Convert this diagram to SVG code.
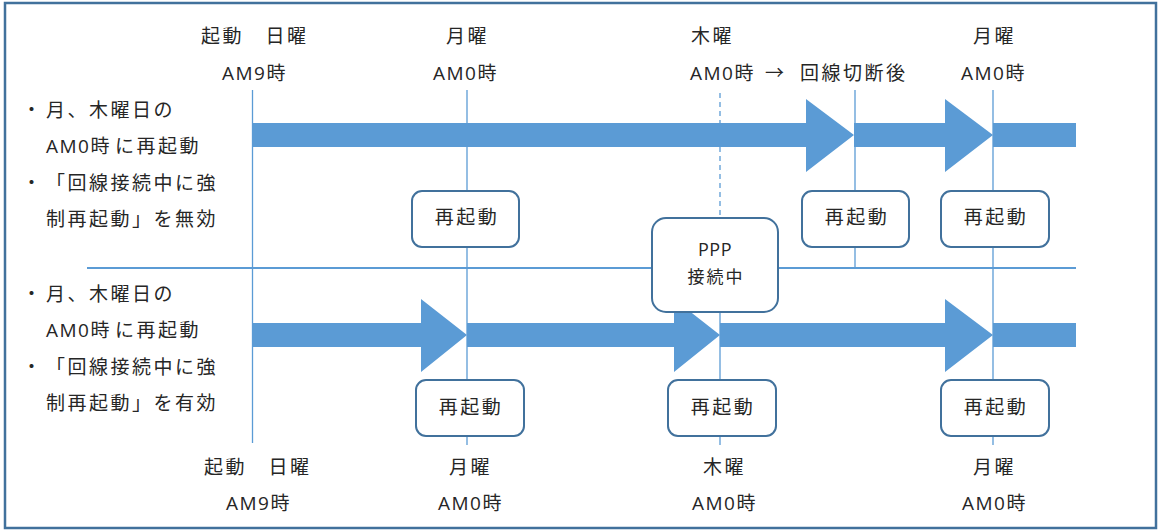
<svg xmlns="http://www.w3.org/2000/svg" width="1161" height="532" viewBox="0 0 1161 532">
<style>
.t{font-family:"Noto Sans CJK JP","Noto Sans",sans-serif;font-size:19px;fill:#262626;letter-spacing:2.5px}
.s{font-family:"Noto Sans CJK JP","Noto Sans",sans-serif;font-size:17px;fill:#262626;letter-spacing:2px}
.l{font-family:"Open Sans","Noto Sans CJK JP",sans-serif;letter-spacing:1.5px}
.p{font-family:"Open Sans",sans-serif;font-size:18px;letter-spacing:0.5px}
.c{text-anchor:middle}
.vl{stroke:#5b9bd5;stroke-width:1.3;fill:none}
.box{fill:#fff;stroke:#41719c;stroke-width:2}
.arr{fill:#5b9bd5}
</style>
<rect x="5" y="3" width="1151" height="525" fill="#fff" stroke="#41719c" stroke-width="2.5"/>
<g id="connectors">
<line class="vl" x1="252.5" y1="90" x2="252.5" y2="443"/>
<line class="vl" x1="467" y1="90" x2="467" y2="445"/>
<line class="vl" x1="720" y1="93" x2="720" y2="218" stroke-dasharray="5,4"/>
<line class="vl" x1="720" y1="312" x2="720" y2="445"/>
<line class="vl" x1="855" y1="90" x2="855" y2="268"/>
<line class="vl" x1="993" y1="90" x2="993" y2="445"/>
<line x1="87" y1="268" x2="1076" y2="268" stroke="#5b9bd5" stroke-width="2"/>
<path class="arr" d="M252,123 H806 V99 L854,135 L806,172 V147 H252 Z"/>
<path class="arr" d="M854,123 H945 V99 L993,135 L945,172 V147 H854 Z"/>
<rect class="arr" x="993" y="123" width="83" height="24"/>
<path class="arr" d="M252,323 H421 V299 L467,335 L421,372 V347 H252 Z"/>
<path class="arr" d="M467,323 H674 V299 L720,335 L674,372 V347 H467 Z"/>
<path class="arr" d="M720,323 H945 V299 L993,335 L945,372 V347 H720 Z"/>
<rect class="arr" x="993" y="323" width="83" height="24"/>
</g>
<g id="top-labels">
<text class="t" x="201" y="43">起動　日曜</text>
<text class="t" x="222" y="80"><tspan class="l">AM9</tspan>時</text>
<text class="t" x="446" y="43">月曜</text>
<text class="t" x="433" y="80"><tspan class="l">AM0</tspan>時</text>
<text class="t" x="691" y="43">木曜</text>
<text class="t" x="690" y="80"><tspan class="l">AM0</tspan>時</text>
<text class="t" x="765" y="80">→</text>
<text class="t" x="800" y="80">回線切断後</text>
<text class="t" x="973" y="43">月曜</text>
<text class="t" x="961" y="80"><tspan class="l">AM0</tspan>時</text>
</g>
<g id="bottom-labels">
<text class="t" x="204" y="474">起動　日曜</text>
<text class="t" x="226" y="510"><tspan class="l">AM9</tspan>時</text>
<text class="t" x="449" y="474">月曜</text>
<text class="t" x="438" y="510"><tspan class="l">AM0</tspan>時</text>
<text class="t" x="703" y="474">木曜</text>
<text class="t" x="692" y="510"><tspan class="l">AM0</tspan>時</text>
<text class="t" x="973" y="474">月曜</text>
<text class="t" x="962" y="510"><tspan class="l">AM0</tspan>時</text>
</g>
<g id="desc-upper">
<text class="t" x="22" y="117">・</text>
<text class="t" x="46" y="117">月、木曜日の</text>
<text class="t" x="46" y="153"><tspan class="l">AM0</tspan>時</text>
<text class="t" x="115" y="153">に再起動</text>
<text class="t" x="22" y="190">・</text>
<text class="t" x="46" y="190">「回線接続中に強</text>
<text class="t" x="46" y="226">制再起動」を無効</text>
</g>
<g id="desc-lower">
<text class="t" x="22" y="301">・</text>
<text class="t" x="46" y="301">月、木曜日の</text>
<text class="t" x="46" y="337"><tspan class="l">AM0</tspan>時</text>
<text class="t" x="115" y="337">に再起動</text>
<text class="t" x="22" y="374">・</text>
<text class="t" x="46" y="374">「回線接続中に強</text>
<text class="t" x="46" y="410">制再起動」を有効</text>
</g>
<g id="box-u1"><rect class="box" x="412" y="191" width="107" height="56" rx="10"/><text class="t c" x="467" y="224">再起動</text></g>
<g id="box-u2"><rect class="box" x="802" y="191" width="107" height="56" rx="10"/><text class="t c" x="857" y="224">再起動</text></g>
<g id="box-u3"><rect class="box" x="941" y="191" width="108" height="56" rx="10"/><text class="t c" x="996" y="224">再起動</text></g>
<g id="box-ppp"><rect class="box" x="652" y="218" width="126" height="94" rx="14"/><text class="s c p" x="715" y="256">PPP</text><text class="s c" x="716" y="283">接続中</text></g>
<g id="box-l1"><rect class="box" x="416" y="380" width="108" height="56" rx="10"/><text class="t c" x="471" y="414">再起動</text></g>
<g id="box-l2"><rect class="box" x="668" y="380" width="108" height="56" rx="10"/><text class="t c" x="723" y="414">再起動</text></g>
<g id="box-l3"><rect class="box" x="941" y="380" width="108" height="56" rx="10"/><text class="t c" x="996" y="414">再起動</text></g>
</svg>
